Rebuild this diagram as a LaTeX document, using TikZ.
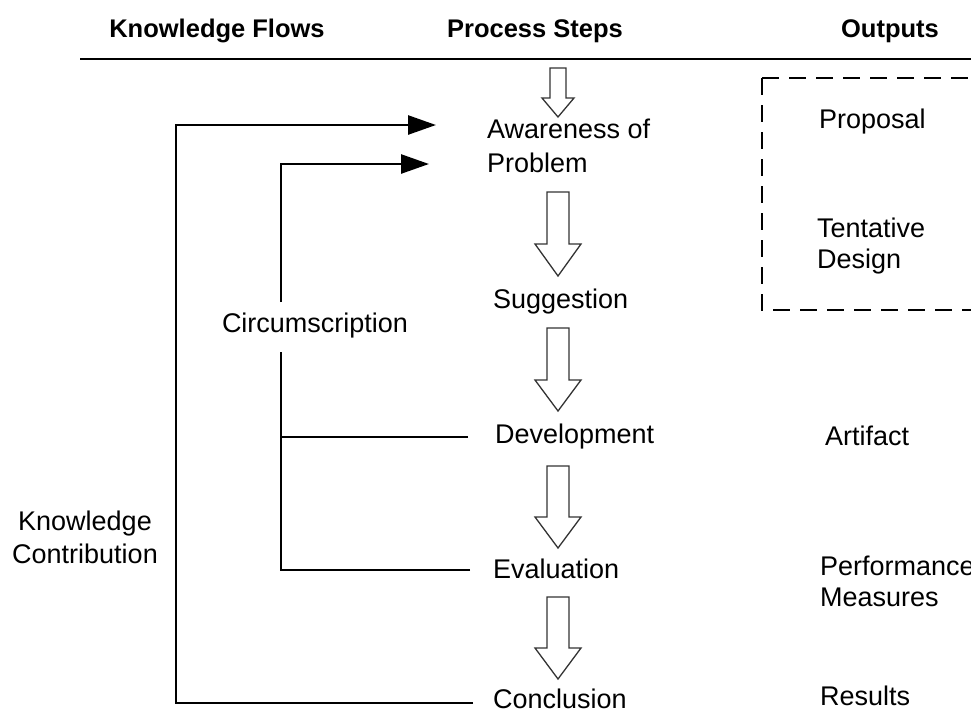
\documentclass[tikz,border=0pt]{standalone}
\usepackage{fontspec}
\setmainfont{Liberation Sans}
\usetikzlibrary{arrows.meta}

% hollow block arrow pointing down: centre x, top, head base, tip, shaft half-width, head half-width
\newcommand{\hollowArrow}[6]{%
  \draw[blockarrow] ({#1-#5},#2) -- ({#1+#5},#2) -- ({#1+#5},#3) -- ({#1+#6},#3)
    -- (#1,#4) -- ({#1-#6},#3) -- ({#1-#5},#3) -- cycle;}

\begin{document}
\begin{tikzpicture}[x=1pt,y=-1pt,
  every node/.style={inner sep=0pt, outer sep=0pt, font=\fontsize{27}{32}\selectfont},
  header/.style={font=\fontsize{25.5}{30}\selectfont\bfseries, anchor=base},
  steptext/.style={anchor=base west},
  centertext/.style={anchor=base},
  flow/.style={line width=2.6pt, line cap=butt, line join=miter},
  flowarrow/.style={flow, -{Triangle[length=28pt,width=19pt]}},
  blockarrow/.style={draw=black!80, line width=1.3pt, fill=white, line join=miter},
  outbox/.style={line width=2.5pt, dash pattern=on 17pt off 10pt},
  rule/.style={line width=2pt}
]
\useasboundingbox (0,0) rectangle (971,724);

% column headers and rule
\node[header] (hKnow) at (217,37) {Knowledge Flows};
\node[header] (hProc) at (535,37) {Process Steps};
\node[header] (hOut)  at (890,37) {Outputs};
\coordinate (ruleL) at (80,59);
\coordinate (ruleR) at (971,59);
\draw[rule] (ruleL) -- (ruleR);

% process steps
\node[steptext] (aware)  at (487,138) {Awareness of};
\node[steptext] (aware2) at (487,172) {Problem};
\node[steptext] (sugg)   at (493,308) {Suggestion};
\node[steptext] (devel)  at (495,443) {Development};
\node[steptext] (evalu)  at (493,578) {Evaluation};
\node[steptext] (concl)  at (493,708) {Conclusion};

\hollowArrow{558}{68}{98}{117}{8}{16}
\hollowArrow{558}{192}{244}{276}{11}{23}
\hollowArrow{558}{328}{380}{411}{11}{23}
\hollowArrow{558}{466}{517}{548}{11}{23}
\hollowArrow{558}{597}{648}{679}{11}{23}

% outputs
\node[steptext] (prop)  at (819,128) {Proposal};
\node[steptext] (tent)  at (817,237) {Tentative};
\node[steptext] (tent2) at (817,268) {Design};
\node[steptext] (arti)  at (825,445) {Artifact};
\node[steptext] (perf)  at (820,575) {Performance};
\node[steptext] (perf2) at (820,606) {Measures};
\node[steptext] (resu)  at (820,705) {Results};

\coordinate (boxTL) at (762,78);
\coordinate (boxTR) at (985,78);
\coordinate (boxBL) at (762,310);
\coordinate (boxBR) at (985,310);
\draw[outbox] (boxTL) -- (boxTR);
\draw[outbox] (boxTL) -- (boxBL) -- (boxBR);

% knowledge flows
\node[centertext] (know)  at (85,530) {Knowledge};
\node[centertext] (know2) at (85,563) {Contribution};
\node[steptext]   (circ)  at (222,332) {Circumscription};

\coordinate (kcIn)   at (436,125);
\coordinate (ciIn)   at (429,164);
\coordinate (ciTop)  at (281,302);
\coordinate (ciLow)  at (281,352);
\coordinate (devEnd) at (468,437);
\coordinate (devJn)  at (281,437);
\coordinate (evaEnd) at (470,570);
\coordinate (conEnd) at (473,703);
\coordinate (conJn)  at (176,703);

\draw[flowarrow] (conEnd) -- (conJn) |- (kcIn);
\draw[flowarrow] (ciTop) |- (ciIn);
\draw[flow] (evaEnd) -| (ciLow);
\draw[flow] (devEnd) -- (devJn);
\end{tikzpicture}
\end{document}
